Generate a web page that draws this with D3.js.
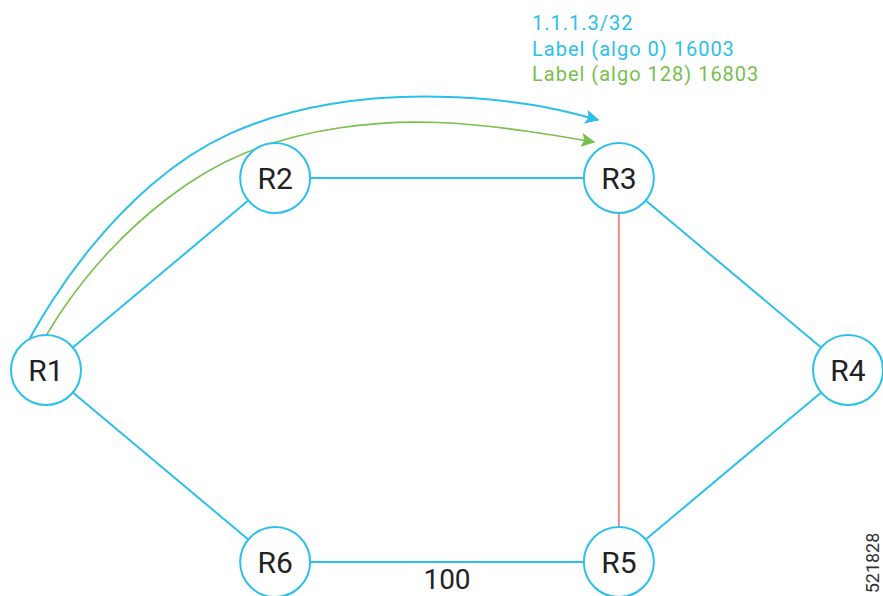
<!DOCTYPE html>
<html lang="en">
<head>
<meta charset="UTF-8">
<title>Flex-algo topology</title>
<script src="https://cdn.jsdelivr.net/npm/d3@7"></script>
<style>
  body {margin: 0; background: #fff;}
  svg {display: block; font-family: Roboto, "Noto Sans", sans-serif;}
</style>
</head>
<body>
<svg id="topo"></svg>
<script>
// DATA: routers on a layout grid (columns / rows), links and the prefix annotation
const routers = ["R1", "R2", "R3", "R4", "R5", "R6"];
const routerCol = [0, 2, 5, 7, 5, 2];
const routerRow = [1, 0, 0, 1, 2, 2];
const links = [["R1", "R2"], ["R2", "R3"], ["R3", "R4"], ["R4", "R5"], ["R5", "R6"], ["R6", "R1"], ["R3", "R5"]];
const linkKind = ["normal", "normal", "normal", "normal", "normal", "normal", "excluded"];
const linkMetric = ["", "", "", "", "100", "", ""];
const prefixLines = ["1.1.1.3/32", "Label (algo 0) 16003", "Label (algo 128) 16803"];
const prefixAlgo = ["info", "algo0", "algo128"];
const figureId = "521828";

const W = 883, H = 596, R = 35;
const colors = {normal: "#2bc0ec", excluded: "#f08a84", info: "#2bc0ec", algo0: "#2bc0ec", algo128: "#78c04c"};

// traced shape of the two R1 -> R3 path arrows (smoothed with a B-spline)
const arcShape = {
  algo0: [[30, 338], [48, 306], [88, 248], [150, 182], [225, 130], [330, 100], [440, 94], [540, 104], [598, 120]],
  algo128: [[46, 336], [64, 306], [104, 254], [166, 196], [240, 150], [340, 124], [440, 120], [530, 131], [594, 142]]
};

const svg = d3.select("#topo").attr("width", W).attr("height", H);

const x = d3.scaleLinear().domain([0, 7]).range([46, 848]);
const y = d3.scaleLinear().domain([0, 2]).range([178, 562]);

const nodes = routers.map((name, i) => ({name, x: x(routerCol[i]), y: y(routerRow[i])}));
const byName = Object.fromEntries(nodes.map(d => [d.name, d]));

// arrow markers
const defs = svg.append("defs");
["algo0", "algo128"].forEach(k => {
  defs.append("marker")
      .attr("id", "arrow-" + k)
      .attr("viewBox", "0 0 10 10")
      .attr("refX", 9).attr("refY", 5)
      .attr("markerWidth", 17).attr("markerHeight", 14)
      .attr("markerUnits", "userSpaceOnUse")
      .attr("orient", "auto")
    .append("path")
      .attr("d", "M0,0 L10,5 L0,10 L2,5 Z")
      .attr("fill", colors[k]);
});

// links
svg.append("g").selectAll("line")
   .data(links)
   .join("line")
     .attr("x1", d => byName[d[0]].x).attr("y1", d => byName[d[0]].y)
     .attr("x2", d => byName[d[1]].x).attr("y2", d => byName[d[1]].y)
     .attr("stroke", (d, i) => colors[linkKind[i]])
     .attr("stroke-width", 2);

// metric labels
svg.append("g").selectAll("text")
   .data(links.filter((d, i) => linkMetric[i] !== ""))
   .join("text")
     .attr("x", d => (byName[d[0]].x + byName[d[1]].x) / 2)
     .attr("y", d => byName[d[0]].y + 27)
     .attr("text-anchor", "middle")
     .attr("font-size", 28)
     .attr("fill", "#222")
     .text(d => linkMetric[links.indexOf(d)]);

// path arrows R1 -> R3
const line = d3.line().curve(d3.curveBasis);
svg.append("g").selectAll("path")
   .data(["algo0", "algo128"])
   .join("path")
     .attr("d", k => line(arcShape[k]))
     .attr("fill", "none")
     .attr("stroke", k => colors[k])
     .attr("stroke-width", k => k === "algo0" ? 2 : 1.6)
     .attr("marker-end", k => `url(#arrow-${k})`);

// routers
const g = svg.append("g").selectAll("g")
   .data(nodes)
   .join("g")
     .attr("transform", d => `translate(${d.x},${d.y})`);
g.append("circle").attr("r", R).attr("fill", "#fff")
 .attr("stroke", colors.normal).attr("stroke-width", 2);
g.append("text")
 .attr("text-anchor", "middle").attr("dy", "0.36em")
 .attr("font-size", 30).attr("fill", "#222")
 .text(d => d.name);

// prefix annotation
svg.append("g").selectAll("text")
   .data(prefixLines)
   .join("text")
     .attr("x", 532)
     .attr("y", (d, i) => 30 + i * 25.5)
     .attr("font-size", 20)
     .attr("letter-spacing", 1)
     .attr("fill", (d, i) => colors[prefixAlgo[i]])
     .text(d => d);

// figure id
svg.append("text")
   .attr("transform", "translate(879,563) rotate(-90)")
   .attr("text-anchor", "middle")
   .attr("font-size", 18).attr("fill", "#333")
   .text(figureId);
</script>
</body>
</html>
